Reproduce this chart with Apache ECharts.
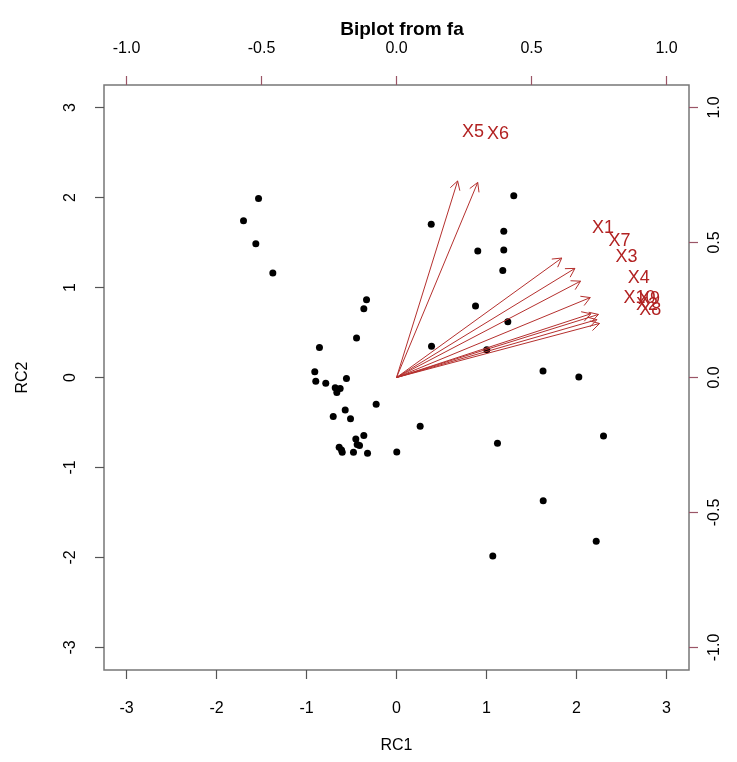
<!DOCTYPE html>
<html>
<head>
<meta charset="utf-8">
<script src="https://cdn.jsdelivr.net/npm/echarts@6/dist/echarts.min.js"></script>
<style>
html,body{margin:0;padding:0;background:#fff;}
#chart{width:737px;height:762px;}
</style>
</head>
<body>
<div id="chart"></div>
<script>
// Factor scores (RC1, RC2)
const scoreRC1 = [-1.533,-1.700,-1.563,-1.374,-0.333,-0.363,-0.444,-0.856,-0.908,-0.897,-0.786,-0.556,-0.681,-0.626,-0.663,-0.226,-0.570,-0.703,-0.511,-0.363,-0.452,-0.437,-0.411,-0.637,-0.603,-0.611,-0.478,-0.322,0.003,0.263,
  0.386,1.303,1.192,0.903,1.192,1.181,0.878,1.237,0.389,1.003,1.628,2.026,1.122,2.300,1.630,2.219,1.070];
const scoreRC2 = [1.990,1.742,1.487,1.160,0.864,0.764,0.440,0.332,0.063,-0.041,-0.063,-0.011,-0.114,-0.122,-0.166,-0.296,-0.362,-0.432,-0.457,-0.645,-0.683,-0.745,-0.756,-0.775,-0.831,-0.805,-0.831,-0.842,-0.827,-0.543,
  1.702,2.019,1.625,1.406,1.417,1.188,0.794,0.620,0.347,0.307,0.072,0.006,-0.731,-0.650,-1.370,-1.820,-1.982];
// Variable loadings
const varNames = ['X1','X2','X3','X4','X5','X6','X7','X8','X9','X10'];
const loadRC1 = [0.765,0.928,0.852,0.897,0.283,0.376,0.826,0.940,0.935,0.900];
const loadRC2 = [0.553,0.268,0.446,0.370,0.910,0.903,0.505,0.250,0.292,0.295];
// Tick labels
const scoreTicks = [-3,-2,-1,0,1,2,3];
const loadTicks = [-1.0,-0.5,0.0,0.5,1.0];

const LIM = 3.25;
const FONT = "'Liberation Sans',Arial,sans-serif";
const tickCol = '#555';
const axCol2 = '#9a5566';
const arrowCol = '#b5302e';
const labCol = '#b22222';

const chart = echarts.init(document.getElementById('chart'));
const pts = scoreRC1.map((v,i)=>[v, scoreRC2[i]]);
const loads = loadRC1.map((v,i)=>[v, loadRC2[i], varNames[i]]);

function labelStyle(extra){
  return Object.assign({color:'#000', fontSize:16, fontFamily:FONT}, extra||{});
}

const option = {
  animation:false,
  backgroundColor:'#fff',
  title:{
    text:'Biplot from fa', left:397, top:15, textAlign:'center',
    textStyle:{fontSize:19, fontWeight:'bold', fontFamily:FONT, color:'#000'}
  },
  grid:{left:104, top:85, width:585, height:585, show:true, borderColor:'#777', borderWidth:1.5, backgroundColor:'transparent'},
  xAxis:[
    {type:'value', position:'bottom', min:-LIM, max:LIM, name:'RC1', nameLocation:'middle', nameGap:68,
     nameTextStyle:labelStyle(),
     axisLine:{show:false, onZero:false}, splitLine:{show:false},
     axisTick:{show:true, inside:false, length:9, customValues:scoreTicks, lineStyle:{color:tickCol, width:1.2}},
     axisLabel:{show:true, margin:31, customValues:scoreTicks, formatter:v=>String(v), ...labelStyle()}},
    {type:'value', position:'top', min:-LIM/3, max:LIM/3,
     axisLine:{show:false, onZero:false}, splitLine:{show:false},
     axisTick:{show:true, inside:false, length:9, customValues:loadTicks, lineStyle:{color:axCol2, width:1.2}},
     axisLabel:{show:true, margin:28, customValues:loadTicks, formatter:v=>v.toFixed(1), ...labelStyle()}}
  ],
  yAxis:[
    {type:'value', position:'left', min:-LIM, max:LIM, name:'RC2', nameLocation:'middle', nameGap:73, nameRotate:90,
     nameTextStyle:labelStyle(),
     axisLine:{show:false, onZero:false}, splitLine:{show:false},
     axisTick:{show:true, inside:false, length:9, customValues:scoreTicks, lineStyle:{color:tickCol, width:1.2}},
     axisLabel:{show:true, margin:25, rotate:90, customValues:scoreTicks, formatter:v=>String(v), ...labelStyle()}},
    {type:'value', position:'right', min:-LIM/3, max:LIM/3,
     axisLine:{show:false, onZero:false}, splitLine:{show:false},
     axisTick:{show:true, inside:false, length:9, customValues:loadTicks, lineStyle:{color:axCol2, width:1.2}},
     axisLabel:{show:true, margin:18, rotate:90, customValues:loadTicks, formatter:v=>v.toFixed(1), ...labelStyle()}}
  ],
  series:[
    {type:'scatter', xAxisIndex:0, yAxisIndex:0, data:pts, symbol:'circle', symbolSize:7,
     itemStyle:{color:'#000', opacity:1}, silent:true, z:3},
    {type:'custom', xAxisIndex:1, yAxisIndex:1, data:loads, z:4, silent:true,
     renderItem:function(params, api){
       const lx = api.value(0), ly = api.value(1);
       const o = api.coord([0,0]);
       const t = api.coord([lx*0.8, ly*0.8]);
       const ang = Math.atan2(t[1]-o[1], t[0]-o[0]);
       const L = 10, A = Math.PI/6;
       const h1 = [t[0]-L*Math.cos(ang-A), t[1]-L*Math.sin(ang-A)];
       const h2 = [t[0]-L*Math.cos(ang+A), t[1]-L*Math.sin(ang+A)];
       const ls = {stroke:arrowCol, lineWidth:1, fill:null};
       return {type:'group', children:[
         {type:'line', shape:{x1:o[0],y1:o[1],x2:t[0],y2:t[1]}, style:ls},
         {type:'polyline', shape:{points:[h1,t,h2]}, style:ls}
       ]};
     }},
    {type:'custom', xAxisIndex:1, yAxisIndex:1, data:loads, z:5, silent:true,
     renderItem:function(params, api){
       const p = api.coord([api.value(0), api.value(1)]);
       return {type:'text', x:p[0], y:p[1], style:{text:loads[params.dataIndex][2], fill:labCol, font:'18px '+FONT, align:'center', verticalAlign:'middle'}};
     }}
  ]
};
chart.setOption(option);
</script>
</body>
</html>
